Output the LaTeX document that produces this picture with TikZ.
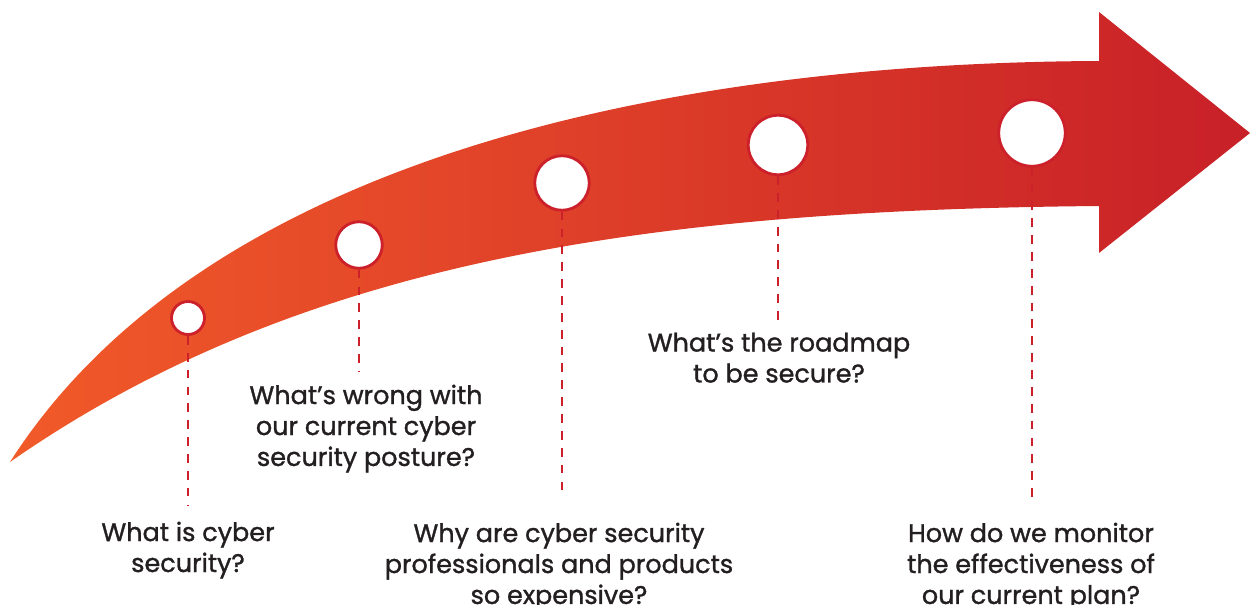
\documentclass[tikz,border=0pt]{standalone}
\usepackage{fontspec}
\setmainfont{Poppins}
\newfontfamily\questionfont{Poppins}[RawFeature={embolden=1.2}]
\usepackage[dvipsnames]{xcolor}
\definecolor{arrowOrange}{RGB}{241,90,41}
\definecolor{arrowRed}{RGB}{200,32,40}
\definecolor{stopRed}{RGB}{204,32,42}
\definecolor{textGray}{RGB}{35,31,32}

\begin{document}
\begin{tikzpicture}[x=0.02cm,y=-0.02cm,thick,
    stop node/.style={circle,draw=stopRed,line width=1.6pt,fill=white,inner sep=0pt},
    question node/.style={anchor=north,align=center,text=textGray,inner sep=0pt,font=\questionfont\fontsize{14.5}{17.6}\selectfont},
    guide/.style={draw=stopRed,line width=1.6pt,dash pattern=on 5pt off 4.6pt}]
    \useasboundingbox (0,0) rectangle (1252,605);

    % the big arrow
    \shade[left color=arrowOrange,right color=arrowRed]
        (10,462) .. controls (200,165) and (650,63) .. (1099,61)
        -- (1099,12) -- (1250,133) -- (1099,253) -- (1099,206)
        .. controls (650,210) and (300,260) .. cycle;

    \node[stop node,minimum size=0.66cm] (1) at (188,318) {};
    \node[stop node,minimum size=0.93cm] (2) at (359,245) {};
    \node[stop node,minimum size=1.09cm] (3) at (562,183) {};
    \node[stop node,minimum size=1.19cm] (4) at (778,145) {};
    \node[stop node,minimum size=1.33cm] (5) at (1032,133) {};

    \node[question node] (a) at (188,521) {What is cyber\\security?};
    \node[question node] (b) at (366,384) {What’s wrong with\\our current cyber\\security posture?};
    \node[question node] (c) at (559,522) {Why are cyber security\\professionals and products\\so expensive?};
    \node[question node] (d) at (779,332) {What’s the roadmap\\to be secure?};
    \node[question node] (e) at (1031,522) {How do we monitor\\the effectiveness of\\our current plan?};

    \coordinate (a end) at (188,505);
    \coordinate (b end) at (359,372);
    \coordinate (c end) at (562,497);
    \coordinate (d end) at (778,320);
    \coordinate (e end) at (1032,497);

    \path[guide]
        (1) edge (a end)
        (2) edge (b end)
        (3) edge (c end)
        (4) edge (d end)
        (5) edge (e end)
        ;
\end{tikzpicture}
\end{document}
